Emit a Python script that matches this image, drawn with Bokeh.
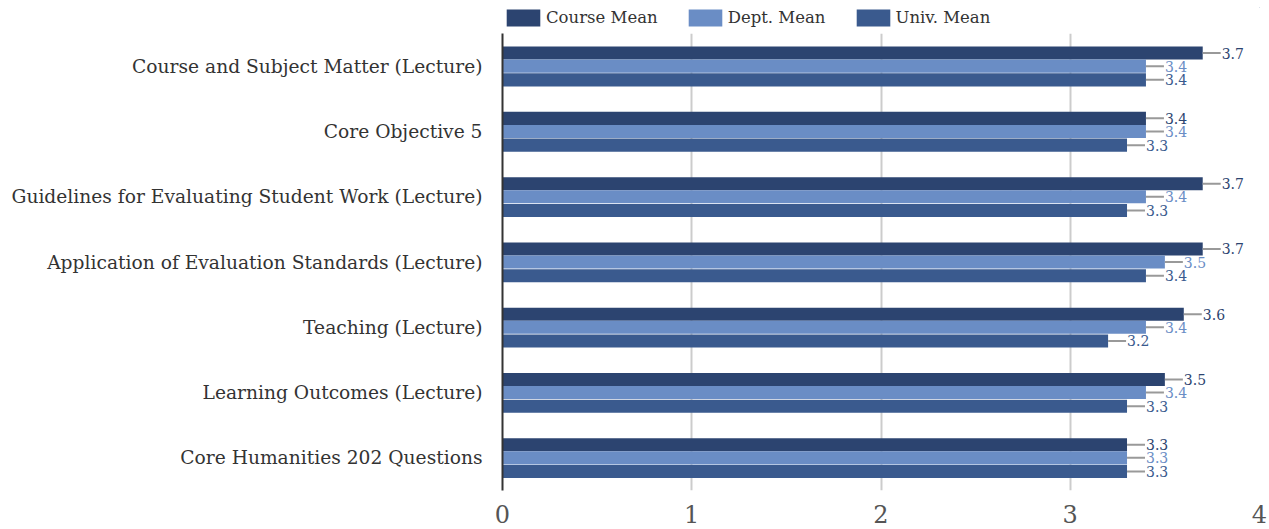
from bokeh.plotting import figure
from bokeh.layouts import column
from bokeh.models import ColumnDataSource, FactorRange, Range1d, Legend, LegendItem, FixedTicker
from bokeh.transform import dodge
from bokeh.core.properties import value
from bokeh.embed import file_html
from bokeh.resources import INLINE

categories = [
    "Course and Subject Matter (Lecture)",
    "Core Objective 5",
    "Guidelines for Evaluating Student Work (Lecture)",
    "Application of Evaluation Standards (Lecture)",
    "Teaching (Lecture)",
    "Learning Outcomes (Lecture)",
    "Core Humanities 202 Questions",
]
course_mean = [3.7, 3.4, 3.7, 3.7, 3.6, 3.5, 3.3]
dept_mean = [3.4, 3.4, 3.4, 3.5, 3.4, 3.4, 3.3]
univ_mean = [3.4, 3.3, 3.3, 3.4, 3.2, 3.3, 3.3]
series_names = ["Course Mean", "Dept. Mean", "Univ. Mean"]
x_ticks = [0, 1, 2, 3, 4]

bar_colors = ["#2c4470", "#6a8dc5", "#3a5a8e"]
label_colors = ["#2c4470", "#6a8dc5", "#3a5a8e"]
offsets = [0.2, 0.0, -0.21]
FONT = "DejaVu Serif"

# ---- main chart ----
p = figure(
    width=1269, height=496,
    y_range=FactorRange(factors=list(reversed(categories)), range_padding=0),
    x_range=Range1d(0, 4),
    output_backend="svg", toolbar_location=None,
    min_border_left=502, min_border_right=10, min_border_top=0, min_border_bottom=39,
)
p.outline_line_color = None

# ---- legend strip ----
lg = figure(
    width=1269, height=33,
    x_range=Range1d(0, 1), y_range=Range1d(0, 1),
    output_backend="svg", toolbar_location=None,
    min_border_left=492, min_border_right=0, min_border_top=7, min_border_bottom=0,
)
lg.outline_line_color = None
lg.axis.visible = False
lg.grid.visible = False

items = []
for name, vals, col, lcol, off in zip(series_names, [course_mean, dept_mean, univ_mean],
                                       bar_colors, label_colors, offsets):
    src = ColumnDataSource(dict(
        cat=categories, v=vals,
        lead=[v + 0.095 for v in vals],
        txt=[f"{v:.1f}" for v in vals],
    ))
    yd = dodge("cat", off, range=p.y_range)
    p.hbar(y=yd, left=0, right="v", height=0.2, source=src,
           fill_color=col, line_color=None)
    p.segment(x0="v", x1="lead", y0=yd, y1=yd, source=src,
              line_color="#999999", line_width=2)
    p.text(x="lead", y=yd, text="txt", source=src, x_offset=1,
           text_align="left", text_baseline="middle",
           text_font=value(FONT), text_font_size="14px", text_color=lcol)
    # legend proxy glyph, placed outside the visible range of the strip
    r = lg.hbar(y=[5], left=[5], right=[6], height=0.5, fill_color=col, line_color=None)
    items.append(LegendItem(label=name, renderers=[r]))

legend = Legend(items=items, orientation="horizontal", location="top_left")
legend.glyph_width = 42
legend.glyph_height = 21
legend.label_standoff = 2
legend.spacing = 26
legend.padding = 0
legend.margin = 0
legend.border_line_color = None
legend.background_fill_alpha = 0
legend.label_text_font = FONT
legend.label_text_font_size = "16.5px"
legend.label_text_color = "#333333"
lg.add_layout(legend)

# grid
p.ygrid.grid_line_color = None
p.xgrid.grid_line_color = "#cccccc"
p.xgrid.grid_line_width = 2
p.xaxis.ticker = FixedTicker(ticks=x_ticks)

# x axis
p.xaxis.axis_line_color = None
p.xaxis.major_tick_line_color = None
p.xaxis.major_tick_out = 0
p.xaxis.major_tick_in = 0
p.xaxis.minor_tick_line_color = None
p.xaxis.major_label_text_font = FONT
p.xaxis.major_label_text_font_size = "24px"
p.xaxis.major_label_text_color = "#555555"
p.xaxis.major_label_standoff = 14

# y axis
p.yaxis.axis_line_color = "#333333"
p.yaxis.axis_line_width = 2
p.yaxis.major_tick_line_color = None
p.yaxis.major_tick_out = 0
p.yaxis.major_tick_in = 0
p.yaxis.minor_tick_line_color = None
p.yaxis.major_label_text_font = FONT
p.yaxis.major_label_text_font_size = "18.67px"
p.yaxis.major_label_text_color = "#333333"
p.yaxis.major_label_standoff = 20

layout = column(lg, p, spacing=0)
open("out.html", "w").write(file_html(layout, INLINE))
